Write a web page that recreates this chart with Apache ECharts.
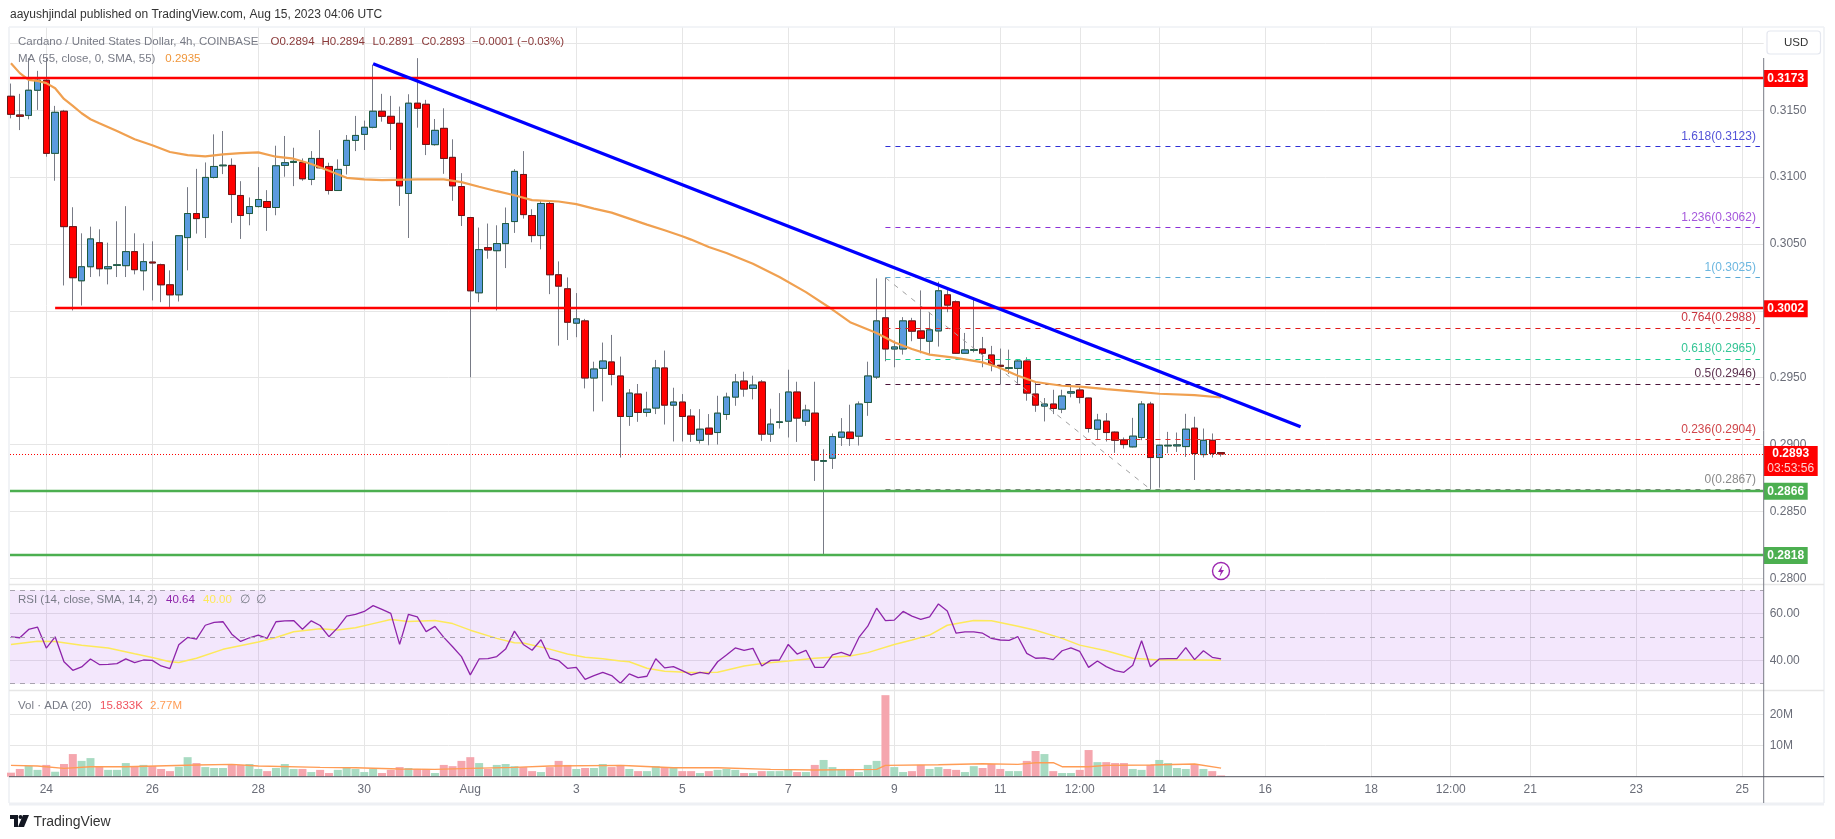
<!DOCTYPE html>
<html><head><meta charset="utf-8">
<style>html,body{margin:0;padding:0;background:#fff}#c{width:1835px;height:839px}</style>
<script src="https://cdn.jsdelivr.net/npm/echarts@6/dist/echarts.min.js"></script>
</head><body><div id="c"></div>
<script>
// x is a bar number: 6 four-hour bars a day, bar 0 = 24 Jul 00:00
const firstBar = -4;
const xTicks = [0,12,24,36,48,60,72,84,96,108,117,126,138,150,159,168,180,192];
const xTickLabels = ['24','26','28','30','Aug','3','5','7','9','11','12:00','14','16','18','12:00','21','23','25'];
const priceTicks = [0.280,0.285,0.290,0.295,0.300,0.305,0.310,0.315,0.320];
const priceTickLabels = [0.280,0.285,0.290,0.295,0.305,0.310,0.315];
const rsiTicks = [40,60];
const volTicks = [10,20];
// open, close, low, high
const candles = [
[.31605,.3147,.3144,.317],[.31465,.31455,.31352,.31623],[.31462,.3165,.31433,.3189],[.3165,.31725,.31503,.31795],
[.31725,.31178,.31153,.3189],[.31178,.31485,.30973,.31533],[.31493,.3063,.3019,.31503],[.3063,.30248,.30003,.30775],
[.30225,.3033,.3004,.3058],[.3033,.30538,.30253,.3063],[.3051,.30315,.30258,.3061],[.30315,.3033,.30198,.3051],
[.3034,.30345,.30253,.3067],[.30338,.30443,.30253,.30783],[.30443,.30308,.30273,.3058],[.303,.30368,.30153,.30505],
[.30365,.30358,.30078,.3052],[.30345,.30195,.30065,.30353],[.30195,.3012,.30025,.30303],[.3012,.30562,.3007,.30567],
[.30548,.30728,.30303,.30925],[.30728,.3069,.30578,.31062],[.30698,.30998,.30545,.3111],[.30998,.3108,.3099,.3132],
[.31085,.3109,.31023,.31345],[.31088,.3087,.30658,.3114],[.30863,.30713,.30538,.3097],[.30728,.3078,.3064,.30848],
[.3078,.30833,.30773,.31075],[.30818,.30773,.30598,.30903],[.30773,.31085,.30715,.31235],[.31088,.31108,.31003,.31308],
[.3111,.31118,.30933,.3122],[.3111,.30988,.30973,.3114],[.30983,.3114,.3094,.31195],[.3114,.3107,.31065,.31352],
[.3108,.309,.3087,.31108],[.309,.31058,.30898,.31133],[.31088,.31275,.3102,.31315],[.31275,.31312,.31195,.31458],
[.3132,.31373,.31203,.31423],[.31373,.31493,.31365,.3184],[.31493,.31455,.31415,.31623],[.31455,.31403,.31203,.31608],
[.31403,.30935,.30785,.31528],[.30878,.31553,.30545,.3162],[.31553,.31515,.3137,.3189],[.31545,.31245,.31165,.31578],
[.31243,.3135,.31235,.31435],[.31365,.3114,.31025,.31515],[.31148,.30935,.30823,.31283],[.3093,.30713,.30635,.3103],
[.30698,.3015,.29503,.30703],[.30135,.30458,.30065,.30623],[.30473,.30455,.3039,.30653],[.3045,.30503,.30003,.3064],
[.30503,.30653,.3032,.30773],[.30668,.31043,.30583,.3106],[.3102,.3072,.3069,.31195],[.30713,.30563,.30513,.3076],
[.30563,.30803,.3046,.30828],[.30803,.3027,.30125,.30815],[.3027,.30185,.2974,.3037],[.30165,.29915,.29782,.3025],
[.29908,.2994,.29803,.30133],[.29925,.29498,.2942,.2994],[.29498,.29565,.29248,.2962],[.2957,.29625,.29323,.29763],
[.29618,.29525,.29443,.2982],[.29513,.2921,.28903,.29658],[.2921,.29385,.2914,.29415],[.29378,.2924,.2917,.29453],
[.2924,.29265,.29208,.29395],[.29273,.29573,.29228,.29633],[.29573,.29295,.2915,.29703],[.29295,.29318,.29023,.29425],
[.29318,.2921,.29023,.29378],[.29213,.29078,.2902,.29265],[.29032,.29115,.29008,.29265],[.29123,.29078,.28995,.29228],
[.2909,.29235,.29,.29365],[.29225,.29355,.29185,.29388],[.29355,.29468,.2929,.29528],[.29475,.29415,.29358,.29545],
[.2942,.29445,.29338,.29515],[.29468,.29078,.29028,.29483],[.29078,.29153,.2902,.29268],[.29165,.2917,.2912,.29385],
[.29175,.29393,.29053,.2956],[.29393,.29198,.2902,.2947],[.29175,.29258,.2914,.29298],[.29235,.28883,.28728,.2947],
[.28875,.2888,.28175,.28965],[.28898,.2906,.28818,.29083],[.29055,.29093,.2899,.29198],[.29093,.29045,.2899,.29298],
[.29063,.29303,.28993,.29323],[.29315,.29513,.29215,.2962],[.29505,.29925,.2949,.30243],[.29948,.29715,.29623,.30248],
[.29715,.2973,.29578,.29778],[.29715,.29925,.29673,.29953],[.29925,.29848,.29773,.29948],[.2985,.29795,.29683,.30153],
[.29773,.29858,.29678,.2999],[.2985,.3015,.29733,.30218],[.3012,.30043,.2999,.30178],[.30068,.29683,.29678,.30078],
[.29683,.29708,.29678,.29835],[.29705,.2971,.2969,.30098],[.29715,.29683,.29578,.29805],[.2967,.296,.29548,.29738],
[.29593,.29585,.29453,.29718],[.2957,.29575,.29528,.2971],[.2957,.29625,.29453,.2964],[.29625,.29385,.29328,.29653],
[.29378,.29295,.29245,.29465],[.29288,.29303,.29173,.29348],[.29303,.2927,.29228,.2941],[.29265,.29363,.29235,.2941],
[.29385,.29395,.29353,.29453],[.29408,.29353,.29308,.29438],[.29348,.2912,.2909,.2935],[.29115,.29183,.2904,.2923],
[.29175,.2909,.29023,.29235],[.29093,.29032,.28938,.29098],[.29035,.29,.2897,.29053],[.28983,.29063,.28978,.292],
[.29053,.29303,.29033,.29325],[.29303,.28903,.28665,.2932],[.28903,.28995,.28678,.29],[.2899,.28995,.28935,.29095],
[.2899,.28998,.28945,.2909],[.28985,.29115,.28908,.2923],[.29123,.28933,.28735,.29208],[.28925,.29032,.28903,.2912],
[.29032,.28933,.28903,.29083],[.2894,.2893,.2891,.2894]];
// MA 55: [bar, value]
const ma55 = [[-4,.31852],[-3,.31778],[-2,.31728],[-1,.3172],[0,.31703],[1,.31665],[2,.31585],[3,.31533],[4,.31478],[5,.31433],[6,.31403],[8,.31345],[10,.31283],[12,.31238],[14,.31188],[16,.31165],[18,.31155],[20,.3117],[22,.3118],[24,.31185],[26,.31153],[28,.31138],[30,.31098],[32,.31048],[34,.30995],[36,.30983],[38,.30978],[42,.30983],[45,.30983],[47,.30963],[49,.30928],[51,.30895],[53,.30865],[55,.30828],[58,.30818],[60,.30798],[62,.30765],[64,.30735],[66,.3069],[68,.30645],[70,.30603],[72,.30558],[73,.30533],[75,.30478],[77,.30433],[80,.30353],[83,.30253],[86,.3014],[89,.3001],[91,.29915],[94,.29835],[96,.29765],[98,.29715],[100,.29673],[103,.29648],[106,.29615],[108,.29573],[110,.29515],[112,.29468],[115,.2944],[117,.29433],[120,.29415],[123,.29398],[126,.2938],[130,.2937],[133,.29352]];
const rsi = [50.07,49.65,53.2,54.2,45.25,50.07,39.4,35.75,37.2,40.6,
38.2,38.3,38.6,40.6,39.0,40.15,40.0,37.6,36.5,46.7,
49.8,49.1,55.0,56.2,56.5,51.2,48.1,49.65,50.8,49.4,
56.5,56.9,57.0,53.3,56.9,54.9,50.1,54.0,58.9,59.6,
60.9,63.4,61.8,60.1,46.8,59.7,58.6,52.3,54.5,49.8,
45.8,41.6,33.8,40.6,40.7,41.6,44.8,52.5,46.8,44.3,
48.8,40.9,39.9,36.6,37.0,31.9,33.5,34.9,33.5,30.2,
34.2,32.6,33.2,40.7,36.8,37.3,35.6,33.8,34.9,34.2,39.4,42.3,45.3,44.3,45.1,37.6,40.0,40.15,46.8,42.7,44.3,37.0,37.0,42.3,43.4,42.0,49.8,54.6,62.3,57.0,57.2,60.9,58.9,57.5,58.6,64.1,61.1,51.6,52.2,52.2,51.6,49.4,48.7,48.5,50.1,43.0,40.9,41.1,40.3,44.1,45.3,43.8,37.0,39.7,37.3,35.6,34.9,37.9,48.4,37.3,40.6,40.7,40.7,45.4,40.3,44.1,41.3,40.64];
const rsiMa = [[-4,46.8],[-1,48.2],[1,48.1],[4,46.5],[7,45.3],[10,42.8],[12,41.2],[14,39.4],[15,39.1],[17,40.9],[20,44.7],[24,47.8],[26,49.8],[28,52.2],[31,53.5],[33,53.0],[35,53.9],[37,55.7],[39,57.5],[41,56.6],[44,57.0],[46,55.7],[48,52.9],[51,49.4],[53,47.5],[54,47.4],[57,44.8],[59,42.7],[61,41.3],[63,40.7],[65,39.7],[66,39.4],[68,36.6],[70,35.3],[73,34.8],[76,34.9],[79,37.6],[81,38.7],[84,39.7],[87,40.9],[91,41.9],[93,43.3],[96,46.8],[98,48.7],[100,50.8],[102,55.0],[105,57.0],[107,56.9],[110,54.6],[112,52.9],[115,49.4],[117,46.5],[120,44.1],[123,40.9],[126,40.2],[129,40.2],[133,40.0]];
const volume = [1.3,2.5,3.5,2.2,3.8,1.6,4.1,7.3,5.1,6.0,3.2,2.2,2.2,4.4,3.4,3.8,3.4,2.5,1.8,3.2,6.3,4.4,3.1,2.8,2.8,3.8,3.8,4.1,2.5,1.8,2.8,4.1,2.5,2.5,1.5,2.2,1.2,2.2,3.1,2.5,1.5,2.5,1.2,2.2,3.1,2.8,2.5,2.5,1.2,3.8,3.4,5.1,6.3,4.4,2.5,3.8,4.1,3.4,3.1,1.8,1.5,3.1,5.1,3.8,2.5,2.8,2.8,4.1,3.1,3.8,
2.5,1.8,1.8,3.4,3.1,2.8,1.8,1.8,1.2,1.8,2.2,2.5,2.2,1.2,1.2,1.8,1.8,1.8,2.2,1.5,1.5,3.8,5.4,3.1,2.5,2.5,1.5,3.8,5.1,26.3,3.1,1.5,1.8,3.8,2.5,3.1,2.5,2.2,1.5,3.4,2.8,4.1,2.5,1.8,1.8,5.1,8.3,7.3,1.8,1.2,1.2,2.2,8.6,4.7,4.7,4.4,4.4,2.5,2.2,3.8,5.4,4.4,2.8,2.5,4.0,2.5,1.8,0.4];
const volMa = [[-4,3.66],[-1,3.44],[2,2.69],[5,3.23],[9,3.23],[17,3.76],[21,3.98],[24,3.44],[31,3.01],[35,2.9],[40,2.47],[44,2.37],[48,2.69],[53,3.01],[57,3.44],[65,3.66],[66,3.55],[71,2.9],[76,2.9],[82,2.37],[87,2.15],[94,2.37],[95,3.66],[101,3.87],[106,4.19],[110,3.98],[112,4.52],[114,4.52],[115,3.23],[118,3.23],[120,3.66],[125,3.76],[130,4.09],[133,2.77]];
// drawings
const trendLine = [[37,.31848],[142,.29133]];
const fibDiagonal = [[95,.30248],[125,.28665]];
const fibLevels = [['1.618(0.3123)',.3123,'#2f2fd6','#5353d8'],['1.236(0.3062)',.30622,'#8e2fd8','#a558dc'],['1(0.3025)',.30248,'#5aa9d6','#6db7e0'],['0.764(0.2988)',.29873,'#e01a1a','#c9353f'],['0.618(0.2965)',.2964,'#1fcf93','#35c596'],['0.5(0.2946)',.29453,'#4a1238','#5e3350'],['0.236(0.2904)',.2904,'#e22b2b','#d0474c'],['0(0.2867)',.28665,'#808080','#8a8a8a']];
const redLevels = [[.31743,-4.11,'0.3173'],[.3002,1,'0.3002']];
const greenLevels = [[.28655,'0.2866'],[.28175,'0.2818']];
const lastPrice = .28928;

const xMin=-4.11, xMax=194.43, fibEnd=194, font='"Liberation Sans",sans-serif';
const GRID='#e6e6e6', AXISTXT='#6a6d78';
const bars = candles.map((_,k)=>k+firstBar);
const xAxisFor = (idx,show)=>({type:'value',gridIndex:idx,min:xMin,max:xMax,
  axisLine:{show:false},
  axisTick:{show:false,customValues:xTicks},
  splitLine:{show:true,lineStyle:{color:GRID,width:1}},
  axisLabel:{show:show,customValues:xTicks,margin:7,color:AXISTXT,fontSize:12,fontFamily:font,
    formatter:v=>xTickLabels[xTicks.indexOf(v)]}});
const yAxisFor = (idx,min,max,ticks,labels,fmt)=>({type:'value',gridIndex:idx,position:'right',min,max,scale:true,
  axisLine:{show:false},
  axisTick:{show:false,customValues:ticks},
  splitLine:{show:true,lineStyle:{color:GRID,width:1}},
  axisLabel:{customValues:labels,margin:6,color:AXISTXT,fontSize:12,fontFamily:font,formatter:fmt}});
const tag=(val,txt,color)=>({coord:[xMax,val],symbol:'rect',symbolSize:[44,17],symbolOffset:[22,0.6],itemStyle:{color},
  label:{show:true,position:'inside',formatter:txt,color:'#fff',fontWeight:'bold',fontSize:12,fontFamily:font}});
const hline=(x0,x1,val,color,width,type,extra)=>[Object.assign({coord:[x0,val],lineStyle:{color,width,type}},extra||{}),{coord:[x1,val]}];

const option={
 animation:false,backgroundColor:'#fff',
 grid:[{left:10,width:1753.7,top:27,height:557.3},{left:10,width:1753.7,top:584.3,height:106},{left:10,width:1753.7,top:690.3,height:86.4}],
 xAxis:[xAxisFor(0,false),xAxisFor(1,false),xAxisFor(2,true)],
 yAxis:[yAxisFor(0,.27955,.32123,priceTicks,priceTickLabels,v=>v.toFixed(4)),
        yAxisFor(1,27.2,72.5,rsiTicks,rsiTicks,v=>v.toFixed(2)),
        yAxisFor(2,0,27.87,volTicks,volTicks,v=>v+'M')],
 series:[
  {type:'candlestick',name:'wicks',xAxisIndex:0,yAxisIndex:0,barWidth:7,z:3,encode:{x:0,y:[1,2,3,4]},
   itemStyle:{color:'#787b86',color0:'#787b86',borderColor:'#787b86',borderColor0:'#787b86',borderWidth:1},
   data:candles.map((c,k)=>[bars[k],c[0],c[1],c[2],c[3]])},
  {type:'candlestick',name:'Cardano',xAxisIndex:0,yAxisIndex:0,barWidth:7,z:4,encode:{x:0,y:[1,2,3,4]},
   itemStyle:{color:'#5b9bdf',color0:'#ff0000',borderColor:'#1c5a3e',borderColor0:'#6b1616',borderWidth:1},
   data:candles.map((c,k)=>[bars[k],c[0],c[1],Math.min(c[0],c[1]),Math.max(c[0],c[1])])},
  {type:'line',name:'levels',xAxisIndex:0,yAxisIndex:0,data:fibDiagonal,symbol:'none',z:5,
   lineStyle:{color:'#a0a0a0',width:1,type:[5,6]},
   markLine:{silent:true,symbol:'none',z:5,animation:false,data:[
     ...fibLevels.map(f=>hline(95,fibEnd,f[1],f[2],1,[5,5],{label:{show:true,position:'insideEndTop',distance:4,formatter:f[0],color:f[3],fontSize:12,fontFamily:font}})),
     hline(xMin,xMax,lastPrice,'#ff0000',1,[1,2],{label:{show:false}})
   ]}},
  {type:'line',name:'MA 55',xAxisIndex:0,yAxisIndex:0,data:ma55,symbol:'none',z:6,smooth:false,
   lineStyle:{color:'#f0a050',width:2.2},
   markLine:{silent:true,symbol:'none',z:7,animation:false,data:[
     ...redLevels.map(r=>hline(r[1],xMax,r[0],'#ff0000',2.4,'solid',{label:{show:false}})),
     ...greenLevels.map(g=>hline(xMin,xMax,g[0],'#4caf50',2.4,'solid',{label:{show:false}}))
   ]},
   markPoint:{silent:true,z:20,animation:false,data:[
     ...redLevels.map(r=>tag(r[0],r[2],'#ff0000')),
     ...greenLevels.map(g=>tag(g[0],g[1],'#4caf50')),
     {coord:[xMax,lastPrice],symbol:'rect',symbolSize:[54,30],symbolOffset:[27,6.7],itemStyle:{color:'#ff0000'},
      label:{show:true,position:'inside',formatter:'{a|0.2893}\n{b|03:53:56}',
        rich:{a:{color:'#fff',fontWeight:'bold',fontSize:12,fontFamily:font,lineHeight:15,width:44},b:{color:'#ffd0d0',fontSize:12,fontFamily:font,lineHeight:15,width:44}}}}
   ]}},
  {type:'line',name:'trend',xAxisIndex:0,yAxisIndex:0,data:trendLine,symbol:'none',z:8,lineStyle:{color:'#0000ff',width:3.4}},
  {type:'line',name:'RSI',xAxisIndex:1,yAxisIndex:1,data:rsi.map((v,k)=>[bars[k],v]),symbol:'none',z:4,lineStyle:{color:'#8e24aa',width:1.3},
   markArea:{silent:true,animation:false,itemStyle:{color:'rgba(156,60,230,0.12)'},data:[[{yAxis:30},{yAxis:70}]]},
   markLine:{silent:true,symbol:'none',animation:false,lineStyle:{color:'#a9a4b0',width:1,type:[5,5]},label:{show:false},data:[{yAxis:70},{yAxis:50},{yAxis:30}]}},
  {type:'line',name:'RSI MA',xAxisIndex:1,yAxisIndex:1,data:rsiMa,symbol:'none',z:3,lineStyle:{color:'#fde95a',width:1.5}},
  {type:'bar',name:'Volume',xAxisIndex:2,yAxisIndex:2,barWidth:8,z:3,
   data:volume.map((v,k)=>({value:[bars[k],v],itemStyle:{color:candles[k][1]>=candles[k][0]?'#a8dbc2':'#f5a6ae'}}))},
  {type:'line',name:'Vol MA',xAxisIndex:2,yAxisIndex:2,data:volMa,symbol:'none',z:4,lineStyle:{color:'#ff9c55',width:1.4}}
 ],
 graphic:[
  ...[[9,27,1824,27],[9,27,9,803],[1824,27,1824,803],[9,804,1824,804],[9,584.5,1824,584.5],[9,690.5,1824,690.5]].map(p=>({type:'line',silent:true,z:1,shape:{x1:p[0],y1:p[1],x2:p[2],y2:p[3]},style:{stroke:p[1]==804?'#eef0f4':(p[1]>500&&p[3]<700?'#e6e6e6':'#eef0f4'),lineWidth:p[1]==804?3:1.6}})),
  {type:'line',silent:true,z:30,shape:{x1:1763.7,y1:58,x2:1763.7,y2:803},style:{stroke:'#787b86',lineWidth:1}},
  {type:'line',silent:true,z:30,shape:{x1:9,y1:776.7,x2:1824,y2:776.7},style:{stroke:'#50535e',lineWidth:1}},
  {type:'rect',silent:true,z:30,shape:{x:1767,y:31,width:53.5,height:23,r:3},style:{fill:'#fff',stroke:'#e4e7ef',lineWidth:1.2}},
  ...[
   ['aayushjindal published on TradingView.com, Aug 15, 2023 04:06 UTC',10,15,'#333',12],
   ['USD',1784,43,'#333',11.5],
   ['Cardano / United States Dollar, 4h, COINBASE',18,41.7,'#787b86',11.5],
   ['O0.2894',270.5,41.7,'#8b3a3a',11.5],['H0.2894',321.5,41.7,'#8b3a3a',11.5],['L0.2891',372.5,41.7,'#8b3a3a',11.5],['C0.2893',421.5,41.7,'#8b3a3a',11.5],['−0.0001 (−0.03%)',472,41.7,'#8b3a3a',11.5],
   ['MA (55, close, 0, SMA, 55)',18,58.7,'#787b86',11.5],['0.2935',165.3,58.7,'#f0963a',11.5],
   ['RSI (14, close, SMA, 14, 2)',18,600,'#787b86',11.5],['40.64',166,600,'#8e24aa',11.5],['40.00',203,600,'#fde95a',11.5],['∅',240,600,'#787b86',11.5],['∅',256,600,'#787b86',11.5],
   ['Vol · ADA (20)',18,706,'#787b86',11.5],['15.833K',100,706,'#f0545f',11.5],['2.77M',150,706,'#ff9c55',11.5],
   ['TradingView',33.6,822,'#333',14]
  ].map(t=>({type:'text',silent:true,z:40,style:{text:t[0],x:t[1],y:t[2],fill:t[3],font:t[4]+'px '+font,textVerticalAlign:'middle'}})),
  {type:'polygon',silent:true,z:40,shape:{points:[[10,815],[18,815],[18,827],[14,827],[14,819],[10,819]]},style:{fill:'#131722'}},
  {type:'circle',silent:true,z:40,shape:{cx:20.5,cy:817,r:2},style:{fill:'#131722'}},
  {type:'polygon',silent:true,z:40,shape:{points:[[23,815],[29,815],[24,827],[18,827]]},style:{fill:'#131722'}},
  {type:'circle',silent:true,z:40,shape:{cx:1221,cy:571,r:8.5},style:{fill:'#fff',stroke:'#9c27b0',lineWidth:1.4}},
  {type:'polygon',silent:true,z:41,shape:{points:[[1222.5,565],[1218,572],[1220.8,572],[1219.5,577],[1224,570],[1221.2,570]]},style:{fill:'#9c27b0'}}
 ]
};
echarts.init(document.getElementById('c'),null,{renderer:'canvas'}).setOption(option);
</script></body></html>
